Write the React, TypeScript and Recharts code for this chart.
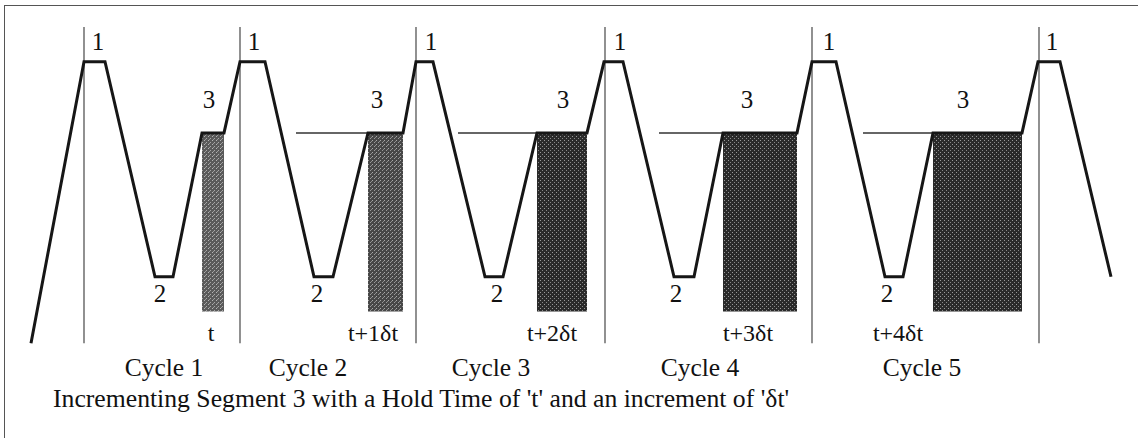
import { ComposedChart, Line, Scatter, XAxis, YAxis, ReferenceLine, ReferenceArea } from 'recharts'

// time (arbitrary units) and level (0 = start, 100 = top of the cycle markers)
const waveTime = [
  0, 5.3, 7.4, 12.4, 14.2, 17.1, 19.3, 20.9, 23.4, 28.3, 30.2, 33.7, 37.2, 38.5, 40.2, 45.4, 47.2, 50.6, 55.6,
  57.3, 59.2, 64.3, 66.3, 69.2, 76.6, 78.1, 80.5, 85.4, 87.2, 90.2, 99.1, 100.7, 102.9, 108,
]
const waveLevel = [
  0, 89, 89, 21, 21, 66.5, 66.5, 89, 89, 21, 21, 66.5, 66.5, 89, 89, 21, 21, 66.5, 66.5,
  89, 89, 21, 21, 66.5, 66.5, 89, 89, 21, 21, 66.5, 66.5, 89, 89, 21,
]

const cycleMarks = [5.3, 20.9, 38.5, 57.4, 78.1, 100.8]
const holdStart = [17.1, 33.7, 50.6, 69.2, 90.2]
const holdEnd = [19.3, 37.2, 55.6, 76.6, 99.1]
const guideStart = [26.5, 42.7, 62.8, 83.2]
const holdFills = ['url(#grainLight)', 'url(#grainMid)', 'url(#grainDark)', 'url(#grainDark)', 'url(#grainDark)']

const HOLD_LEVEL = 66.5
const BOX_BOTTOM = 10

const seg1X = [6.7, 22.3, 40.0, 58.9, 79.8, 102.1]
const seg3X = [17.8, 34.6, 53.2, 71.6, 93.2]
const seg2X = [12.9, 28.6, 46.6, 64.5, 85.6]
const holdLabelX = [18.0, 34.2, 52.1, 71.7, 86.7]
const holdLabels = ['t', 't+1δt', 't+2δt', 't+3δt', 't+4δt']
const cycleX = [13.3, 27.7, 46.0, 66.9, 89.1]
const cycleLabels = ['Cycle 1', 'Cycle 2', 'Cycle 3', 'Cycle 4', 'Cycle 5']
const caption = "Incrementing Segment 3 with a Hold Time of 't' and an increment of 'δt'"

const wave = waveTime.map((x, i) => ({ x, y: waveLevel[i] }))

const labels = [
  ...seg1X.map((x) => ({ x, y: 92.7, label: '1', anchor: 'middle', size: 25 })),
  ...seg3X.map((x) => ({ x, y: 74.3, label: '3', anchor: 'middle', size: 25 })),
  ...seg2X.map((x) => ({ x, y: 13.0, label: '2', anchor: 'middle', size: 25 })),
  ...holdLabelX.map((x, i) => ({ x, y: 0.6, label: holdLabels[i], anchor: 'middle', size: 24 })),
  ...cycleX.map((x, i) => ({ x, y: -10.4, label: cycleLabels[i], anchor: 'middle', size: 25.5 })),
  { x: 2.2, y: -20.2, label: caption, anchor: 'start', size: 25.7 },
]

const TextMark = (props: any) => {
  const { cx, cy, payload } = props
  return (
    <text
      x={cx}
      y={cy}
      textAnchor={payload.anchor}
      fontFamily="'Liberation Serif', 'Times New Roman', serif"
      fontSize={payload.size}
      fill="#111"
    >
      {payload.label}
    </text>
  )
}

export default function App() {
  return (
    <div style={{ position: 'absolute', left: 0, top: 0, width: 1138, height: 438, background: '#fff' }}>
      <div
        style={{
          position: 'absolute',
          left: 4,
          top: 5,
          right: 0,
          bottom: 0,
          borderLeft: '1px solid #555',
          borderTop: '1px solid #555',
        }}
      />
      <ComposedChart width={1138} height={438} margin={{ top: 27, right: 7, bottom: 0, left: 1 }}>
        <defs>
          <pattern id="grainLight" width="4" height="4" patternUnits="userSpaceOnUse">
            <rect width="4" height="4" fill="#5a5a5a" />
            <rect x="0" y="0" width="1" height="1" fill="#b4b4b4" />
            <rect x="2" y="2" width="1" height="1" fill="#a8a8a8" />
            <rect x="1" y="3" width="1" height="1" fill="#9a9a9a" />
          </pattern>
          <pattern id="grainMid" width="4" height="4" patternUnits="userSpaceOnUse">
            <rect width="4" height="4" fill="#474747" />
            <rect x="0" y="0" width="1" height="1" fill="#a8a8a8" />
            <rect x="2" y="2" width="1" height="1" fill="#9a9a9a" />
            <rect x="3" y="1" width="1" height="1" fill="#8c8c8c" />
          </pattern>
          <pattern id="grainDark" width="4" height="4" patternUnits="userSpaceOnUse">
            <rect width="4" height="4" fill="#2a2a2a" />
            <rect x="0" y="0" width="1" height="1" fill="#9a9a9a" />
            <rect x="2" y="2" width="1" height="1" fill="#888" />
          </pattern>
        </defs>
        <XAxis type="number" dataKey="x" domain={[-3, 110]} allowDataOverflow hide />
        <YAxis type="number" domain={[-30, 100]} allowDataOverflow hide />

        {holdStart.map((x1, i) => (
          <ReferenceArea
            key={`hold-${i}`}
            x1={x1}
            x2={holdEnd[i]}
            y1={BOX_BOTTOM}
            y2={HOLD_LEVEL}
            fill={holdFills[i]}
            fillOpacity={1}
            stroke="none"
          />
        ))}

        {cycleMarks.map((x) => (
          <ReferenceLine
            key={`mark-${x}`}
            segment={[
              { x, y: 0 },
              { x, y: 100 },
            ]}
            stroke="#555"
            strokeWidth={1.3}
          />
        ))}

        {guideStart.map((x, i) => (
          <ReferenceLine
            key={`guide-${x}`}
            segment={[
              { x, y: HOLD_LEVEL },
              { x: holdStart[i + 1], y: HOLD_LEVEL },
            ]}
            stroke="#333"
            strokeWidth={1.5}
          />
        ))}

        <Line
          data={wave}
          dataKey="y"
          type="linear"
          stroke="#161616"
          strokeWidth={3}
          dot={false}
          isAnimationActive={false}
        />
        <Scatter data={labels} dataKey="y" shape={TextMark} isAnimationActive={false} />
      </ComposedChart>
    </div>
  )
}
